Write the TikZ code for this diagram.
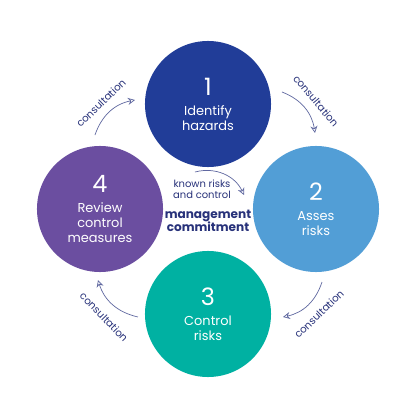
\documentclass[tikz,border=0pt]{standalone}
\usepackage{fontspec}
\setmainfont{Poppins}
\usepackage{tikz}
\usetikzlibrary{arrows.meta, positioning}
\definecolor{stepone}{RGB}{33, 61, 152}
\definecolor{steptwo}{RGB}{82, 158, 214}
\definecolor{stepthree}{RGB}{0, 177, 162}
\definecolor{stepfour}{RGB}{107, 78, 160}
\definecolor{navytext}{RGB}{40, 50, 122}
\definecolor{arrowgray}{RGB}{96, 104, 160}

\begin{document}
\begin{tikzpicture}[x=0.025cm, y=0.025cm,
    stage/.style={circle, minimum size=3.15cm, inner sep=0pt, text=white, align=center,
      font=\fontsize{9.2}{10.4}\selectfont},
    flow/.style={->, >={Stealth[length=5pt, width=5pt, open]}, draw=arrowgray, line width=0.5pt},
    consult/.style={text=navytext, font=\fontsize{7.3}{8}\selectfont, inner sep=0pt}]
      \useasboundingbox[fill=white] (0,0) rectangle (417,417);
      % the four steps
      \node[stage, fill=stepone] (s1) at (208,313) {{\fontsize{17}{17}\selectfont 1}\\[4pt]Identify\\hazards};
      \node[stage, fill=steptwo] (s2) at (316,208) {{\fontsize{17}{17}\selectfont 2}\\[4pt]Asses\\risks};
      \node[stage, fill=stepthree] (s3) at (208,103) {{\fontsize{17}{17}\selectfont 3}\\[4pt]Control\\risks};
      \node[stage, fill=stepfour] (s4) at (100,208) {{\fontsize{17}{17}\selectfont 4}\\[4pt]Review\\control\\measures};
      % consultation arrows between the steps
      \coordinate (a1) at (95,282);  \coordinate (b1) at (135,317);
      \coordinate (a2) at (282,325); \coordinate (b2) at (315,284);
      \coordinate (a3) at (322,135); \coordinate (b3) at (283,100);
      \coordinate (a4) at (138,100); \coordinate (b4) at (98,137);
      \draw[flow] (a1) to[bend left=30] (b1);
      \draw[flow] (a2) to[bend left=30] (b2);
      \draw[flow] (a3) to[bend left=30] (b3);
      \draw[flow] (a4) to[bend left=30] (b4);
      \node[consult, rotate=44] (t1) at (101,314) {consultation};
      \node[consult, rotate=-50] (t2) at (316,316) {consultation};
      \node[consult, rotate=44] (t3) at (319,103) {consultation};
      \node[consult, rotate=-46] (t4) at (104,100) {consultation};
      % centre
      \node[consult, align=center, font=\fontsize{7.1}{8}\selectfont] (known) at (202,228) {known risks\\and control};
      \node[consult, align=center, font=\bfseries\fontsize{8.6}{9.6}\selectfont] (mc) at (208,196) {management\\commitment};
      \coordinate (k1) at (195,245); \coordinate (k2) at (244,222);
      \draw[flow] (k1) to[bend left=40] (k2);
    \end{tikzpicture}
\end{document}
